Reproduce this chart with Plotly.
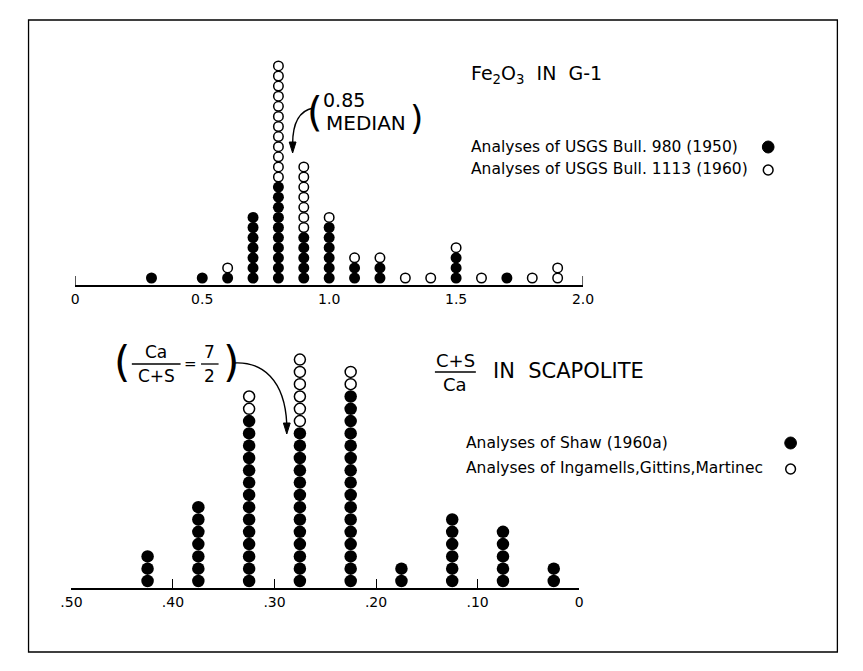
import plotly.graph_objects as go

# ---------------- data ----------------
# Fe2O3 in G-1 (top panel)
fe_values = [0.3, 0.5, 0.6, 0.7, 0.8, 0.9, 1.0, 1.1, 1.2, 1.3, 1.4, 1.5, 1.6, 1.7, 1.8, 1.9]
fe_bull980 = [1, 1, 1, 7, 10, 5, 6, 2, 2, 0, 0, 3, 0, 1, 0, 0]     # filled
fe_bull1113 = [0, 0, 1, 0, 12, 7, 1, 1, 1, 1, 1, 1, 1, 0, 1, 2]    # open
fe_tickvals = [0, 0.5, 1.0, 1.5, 2.0]
fe_ticktext = ["0", "0.5", "1.0", "1.5", "2.0"]
fe_endticks = [0, 2.0]

# (C+S)/Ca in scapolite (bottom panel)
sc_values = [0.425, 0.375, 0.325, 0.275, 0.225, 0.175, 0.125, 0.075, 0.025]
sc_shaw = [3, 7, 14, 13, 16, 2, 6, 5, 2]                 # filled
sc_igm = [0, 0, 2, 6, 2, 0, 0, 0, 0]                     # open
sc_tickvals = [0.5, 0.4, 0.3, 0.2, 0.1, 0.0]
sc_ticktext = [".50", ".40", ".30", ".20", ".10", "0"]

W, H = 863, 671
FONT = "DejaVu Sans"


def fx(p):
    return p / W


def fy(p):
    return 1 - p / H


def stack(values, lower, upper):
    fx_, fy_, ox, oy = [], [], [], []
    for v, a, b in zip(values, lower, upper):
        for k in range(a):
            fx_.append(v)
            fy_.append(k)
        for k in range(b):
            ox.append(v)
            oy.append(a + k)
    return fx_, fy_, ox, oy


fig = go.Figure()

# top panel dots
a_x, a_y, b_x, b_y = stack(fe_values, fe_bull980, fe_bull1113)
fig.add_trace(go.Scatter(x=a_x, y=a_y, mode="markers", xaxis="x", yaxis="y",
                         marker=dict(size=11, color="black", line=dict(width=0)),
                         showlegend=False, hoverinfo="skip"))
fig.add_trace(go.Scatter(x=b_x, y=b_y, mode="markers", xaxis="x", yaxis="y",
                         marker=dict(size=9.5, color="white", line=dict(width=1.5, color="black")),
                         showlegend=False, hoverinfo="skip"))

# bottom panel dots
c_x, c_y, d_x, d_y = stack(sc_values, sc_shaw, sc_igm)
fig.add_trace(go.Scatter(x=c_x, y=c_y, mode="markers", xaxis="x2", yaxis="y2",
                         marker=dict(size=12.5, color="black", line=dict(width=0)),
                         showlegend=False, hoverinfo="skip"))
fig.add_trace(go.Scatter(x=d_x, y=d_y, mode="markers", xaxis="x2", yaxis="y2",
                         marker=dict(size=11, color="white", line=dict(width=1.5, color="black")),
                         showlegend=False, hoverinfo="skip"))

TOP_AX, TOP_TOP, TOP_SP = 285, 40, 10.1
BOT_AX, BOT_TOP, BOT_SP = 588, 330, 12.3
top_lo = -7 / TOP_SP
bot_lo = -7 / BOT_SP

tickfont = dict(family=FONT, size=14, color="black")

fig.update_layout(
    width=W, height=H, autosize=False,
    margin=dict(l=0, r=0, t=0, b=0),
    paper_bgcolor="white", plot_bgcolor="white",
    xaxis=dict(domain=[fx(66), fx(587)], range=[0, 2.0], anchor="y",
               showline=True, linecolor="black", linewidth=1.5,
               showgrid=False, zeroline=False,
               tickvals=fe_tickvals, ticktext=fe_ticktext, ticks="",
               tickfont=tickfont),
    yaxis=dict(domain=[fy(TOP_AX), fy(TOP_TOP)],
               range=[top_lo, top_lo + (TOP_AX - TOP_TOP) / TOP_SP],
               visible=False, anchor="x"),
    xaxis2=dict(domain=[fx(62), fx(583)], range=[0.5, 0.0], anchor="y2",
                showline=True, linecolor="black", linewidth=1.5,
                showgrid=False, zeroline=False,
                tickvals=sc_tickvals, ticktext=sc_ticktext,
                ticks="inside", ticklen=9, tickwidth=1.3, tickcolor="black",
                tickfont=tickfont),
    yaxis2=dict(domain=[fy(BOT_AX), fy(BOT_TOP)],
                range=[bot_lo, bot_lo + (BOT_AX - BOT_TOP) / BOT_SP],
                visible=False, anchor="x2"),
)

shapes = []
# end ticks on top axis
for v in fe_endticks:
    shapes.append(dict(type="line", xref="x", yref="paper", x0=v, x1=v,
                       y0=fy(TOP_AX), y1=fy(TOP_AX - 9),
                       line=dict(color="black", width=1.3)))
# frame
shapes.append(dict(type="rect", xref="paper", yref="paper",
                   x0=fx(18), x1=fx(848), y0=fy(652), y1=fy(20),
                   line=dict(color="black", width=1.3)))
# legend symbols
shapes += [
    dict(type="circle", xref="paper", yref="paper", x0=fx(771), x1=fx(783), y0=fy(153), y1=fy(141),
         fillcolor="black", line=dict(color="black", width=1)),
    dict(type="circle", xref="paper", yref="paper", x0=fx(772), x1=fx(782), y0=fy(175), y1=fy(165),
         fillcolor="white", line=dict(color="black", width=1.5)),
    dict(type="circle", xref="paper", yref="paper", x0=fx(794), x1=fx(806), y0=fy(449), y1=fy(437),
         fillcolor="black", line=dict(color="black", width=1)),
    dict(type="circle", xref="paper", yref="paper", x0=fx(795), x1=fx(805), y0=fy(474), y1=fy(464),
         fillcolor="white", line=dict(color="black", width=1.5)),
]
# curved arrows
shapes.append(dict(type="path", xref="paper", yref="paper",
                   path=f"M {fx(310)},{fy(108)} Q {fx(289)},{fy(112)} {fx(289)},{fy(144)}",
                   line=dict(color="black", width=1.4)))
shapes.append(dict(type="path", xref="paper", yref="paper",
                   path=f"M {fx(228)},{fy(363)} C {fx(258)},{fy(361)} {fx(281)},{fy(380)} {fx(283)},{fy(424)}",
                   line=dict(color="black", width=1.4)))


def arrowhead(x, y, w=3.5, h=11):
    return dict(type="path", xref="paper", yref="paper",
                path=(f"M {fx(x)},{fy(y)} L {fx(x - w)},{fy(y - h)} "
                      f"L {fx(x + w)},{fy(y - h)} Z"),
                fillcolor="black", line=dict(color="black", width=1))


shapes.append(arrowhead(289, 153))
shapes.append(arrowhead(283, 434))
# fraction bars
shapes += [
    dict(type="line", xref="paper", yref="paper", x0=fx(124), x1=fx(174), y0=fy(364), y1=fy(364),
         line=dict(color="black", width=1.3)),
    dict(type="line", xref="paper", yref="paper", x0=fx(195), x1=fx(213), y0=fy(364), y1=fy(364),
         line=dict(color="black", width=1.3)),
    dict(type="line", xref="paper", yref="paper", x0=fx(435), x1=fx(477), y0=fy(372), y1=fy(372),
         line=dict(color="black", width=1.3)),
]
fig.update_layout(shapes=shapes)


def txt(x, y, s, size=14, xanchor="left", family=FONT):
    return dict(x=fx(x), y=fy(y), xref="paper", yref="paper", text=s, showarrow=False,
                xanchor=xanchor, yanchor="middle",
                font=dict(family=family, size=size, color="black"))


ann = [
    txt(470, 75, "Fe<sub>2</sub>O<sub>3</sub>  IN  G-1", size=19),
    txt(470, 147, "Analyses of USGS Bull. 980 (1950)", size=15.5),
    txt(470, 169, "Analyses of USGS Bull. 1113 (1960)", size=15.5),
    txt(302, 112, "(", size=40),
    txt(318, 100, "0.85", size=19),
    txt(321, 123, "MEDIAN", size=20),
    txt(407, 118, ")", size=34),
    # bottom
    txt(104, 362, "(", size=42),
    txt(149, 352, "Ca", size=17, xanchor="center"),
    txt(149, 376, "C+S", size=17, xanchor="center"),
    txt(184, 364, "=", size=15, xanchor="center"),
    txt(204, 352, "7", size=17, xanchor="center"),
    txt(204, 376, "2", size=17, xanchor="center"),
    txt(216, 362, ")", size=42),
    txt(456, 360, "C+S", size=18, xanchor="center"),
    txt(456, 384, "Ca", size=18, xanchor="center"),
    txt(493, 371, "IN  SCAPOLITE", size=21),
    txt(465, 443, "Analyses of Shaw (1960a)", size=15.5),
    txt(465, 468, "Analyses of Ingamells,Gittins,Martinec", size=15.5),
]
fig.update_layout(annotations=ann)

fig.write_html("out.html")
